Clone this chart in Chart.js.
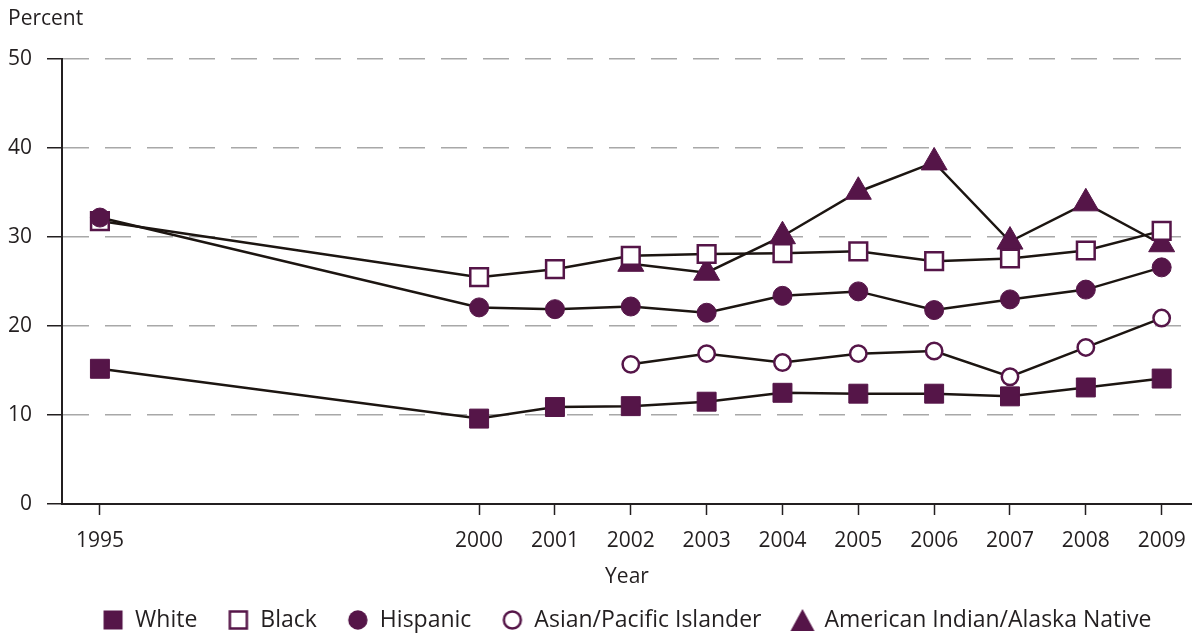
<!DOCTYPE html>
<html>
<head>
<meta charset="utf-8">
<script src="https://cdn.jsdelivr.net/npm/chart.js@4/dist/chart.umd.min.js"></script>
<style>
  html, body { margin: 0; padding: 0; background: #fff; }
  canvas { display: block; }
</style>
</head>
<body>
<canvas id="chart" width="1192" height="634"></canvas>
<script>
// Chart data
const years = [1995, 2000, 2001, 2002, 2003, 2004, 2005, 2006, 2007, 2008, 2009];
const white = [15.2, 9.6, 10.9, 11.0, 11.5, 12.5, 12.4, 12.4, 12.1, 13.1, 14.1];
const black = [31.8, 25.5, 26.4, 27.9, 28.1, 28.2, 28.4, 27.3, 27.6, 28.5, 30.7];
const hispanic = [32.2, 22.1, 21.9, 22.2, 21.5, 23.4, 23.9, 21.8, 23.0, 24.1, 26.6];
const asian = [null, null, null, 15.7, 16.9, 15.9, 16.9, 17.2, 14.3, 17.6, 20.9];
const aian = [null, null, null, 27.0, 26.0, 30.1, 35.1, 38.4, 29.5, 33.8, 29.2];
const seriesNames = ["White", "Black", "Hispanic", "Asian/Pacific Islander", "American Indian/Alaska Native"];

const PURPLE = "#551548";
const LINE = "#1c1511";
const TEXT = "#231f20";
const FONT = "'Open Sans'";

/**
 * Pairs the years with a series, dropping missing years.
 * @param {array}
 */
function toPoints(values){
  let pts = [];
  values.forEach((v, i) => { if(v !== null){ pts.push({x: years[i], y: v}); } });
  return pts;
}

/**
 * Draws a small legend marker on its own canvas.
 * @param {String, Boolean}
 */
function markerCanvas(shape, filled){
  let c = document.createElement("canvas");
  c.width = 26;
  c.height = 26;
  let ctx = c.getContext("2d");
  ctx.fillStyle = filled ? PURPLE : "#fff";
  ctx.strokeStyle = PURPLE;
  ctx.lineWidth = 2.5;
  ctx.beginPath();
  if(shape == "rect"){
    if(filled){ ctx.rect(3.5, 3.5, 19, 19); }
    else { ctx.rect(4.5, 4.5, 17, 17); }
  } else if(shape == "circle"){
    ctx.arc(13, 13, filled ? 9.7 : 8.5, 0, Math.PI * 2);
  } else {
    ctx.moveTo(13, 2);
    ctx.lineTo(25, 24);
    ctx.lineTo(1, 24);
    ctx.closePath();
  }
  ctx.fill();
  if(!filled){ ctx.stroke(); }
  return c;
}

const legendMarkers = [
  markerCanvas("rect", true),
  markerCanvas("rect", false),
  markerCanvas("circle", true),
  markerCanvas("circle", false),
  markerCanvas("triangle", true)
];

function makeDataset(i, values, style, filled, radius, order){
  return {
    label: seriesNames[i],
    data: toPoints(values),
    borderColor: LINE,
    borderWidth: 2.5,
    pointStyle: style,
    pointRadius: radius,
    pointBackgroundColor: filled ? PURPLE : "#fff",
    pointBorderColor: PURPLE,
    pointBorderWidth: filled ? 1 : 2.5,
    order: order,
    clip: false,
    tension: 0
  };
}

new Chart(document.getElementById("chart"), {
  type: "line",
  data: {
    datasets: [
      makeDataset(0, white, "rect", true, 13.4, 0),
      makeDataset(1, black, "rect", false, 12.5, 2),
      makeDataset(2, hispanic, "circle", true, 9.5, 1),
      makeDataset(3, asian, "circle", false, 8.2, 3),
      makeDataset(4, aian, "triangle", true, 15, 4)
    ]
  },
  options: {
    responsive: false,
    animation: false,
    layout: { autoPadding: false, padding: { left: 8, right: 0, top: 0, bottom: 0 } },
    scales: {
      x: {
        type: "linear",
        min: 1994.5,
        max: 2009.4,
        afterBuildTicks: (scale) => { scale.ticks = years.map(v => ({value: v})); },
        afterFit: (scale) => {
          scale.height = 74;
          scale.paddingLeft = 0;
          scale.paddingRight = 0;
        },
        ticks: {
          autoSkip: false,
          maxRotation: 0,
          padding: 13,
          color: TEXT,
          font: { family: FONT, size: 21 },
          callback: (v) => String(v)
        },
        grid: { drawOnChartArea: false, drawTicks: true, tickLength: 11, tickColor: TEXT, tickWidth: 1.5 },
        border: { color: TEXT, width: 2 },
        title: {
          display: true,
          text: "Year",
          color: TEXT,
          font: { family: FONT, size: 21 },
          padding: { top: 0, bottom: -11.6 }
        }
      },
      y: {
        min: 0,
        max: 50,
        afterFit: (scale) => { scale.width = 54; },
        ticks: { stepSize: 10, padding: 15, color: TEXT, font: { family: FONT, size: 21 } },
        grid: { color: "#a8a8a8", lineWidth: 1.5, tickLength: 15, tickColor: TEXT, tickWidth: 1.5 },
        border: { color: TEXT, width: 2, dash: [26, 16] }
      }
    },
    plugins: {
      title: {
        display: true,
        text: "Percent",
        align: "start",
        color: TEXT,
        font: { family: FONT, size: 21, weight: "normal" },
        padding: { top: 6, bottom: 28 }
      },
      legend: {
        position: "bottom",
        fullSize: false,
        maxHeight: 56,
        labels: {
          usePointStyle: true,
          pointStyleWidth: 21,
          padding: 30.5,
          color: TEXT,
          font: { family: FONT, size: 23 },
          generateLabels: (chart) => chart.data.datasets.map((ds, i) => ({
            text: ds.label,
            pointStyle: legendMarkers[i],
            fillStyle: PURPLE,
            strokeStyle: PURPLE,
            lineWidth: 0,
            fontColor: TEXT,
            hidden: false,
            datasetIndex: i
          }))
        }
      },
      tooltip: { enabled: false }
    }
  }
});
</script>
</body>
</html>
